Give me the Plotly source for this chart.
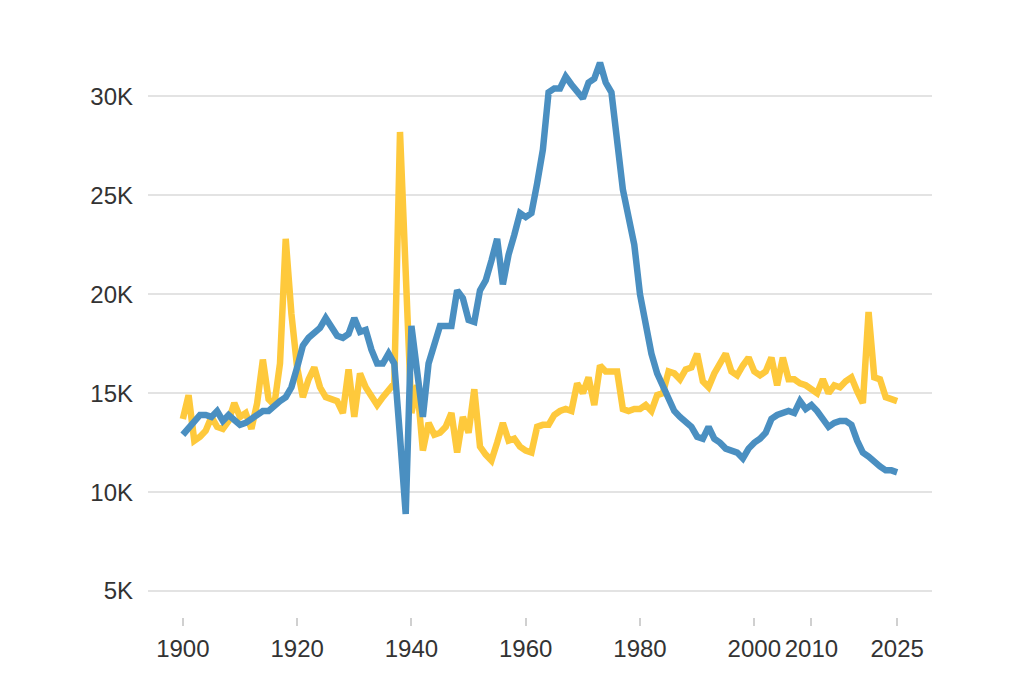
import plotly.graph_objects as go

# yearly values
years = list(range(1900, 2026))

blue_values = [
    12.9, 13.2, 13.6, 13.9, 13.9, 13.8, 14.1, 13.6, 13.9, 13.6,   # 1900s
    13.4, 13.5, 13.7, 13.9, 14.1, 14.1, 14.4, 14.6, 14.8, 15.3,   # 1910s
    16.3, 17.4, 17.8, 18.1, 18.3, 18.8, 18.4, 17.9, 17.8, 18.0,   # 1920s
    18.8, 18.1, 18.2, 17.2, 16.5, 16.5, 17.0, 16.5, 12.8, 8.9,    # 1930s
    18.4, 16.0, 13.8, 16.5, 17.5, 18.4, 18.4, 18.4, 20.2, 19.8,   # 1940s
    18.7, 18.6, 20.2, 20.7, 21.7, 22.8, 20.5, 22.0, 23.0, 24.1,   # 1950s
    23.9, 24.1, 25.6, 27.3, 30.2, 30.4, 30.4, 31.0, 30.6, 30.2,   # 1960s
    29.9, 30.7, 30.9, 31.7, 30.7, 30.2, 28.0, 25.3, 23.9, 22.5,   # 1970s
    20.0, 18.3, 17.0, 16.0, 15.3, 14.6, 14.1, 13.8, 13.5, 13.3,   # 1980s
    12.8, 12.7, 13.3, 12.7, 12.5, 12.2, 12.1, 12.0, 11.7, 12.2,   # 1990s
    12.5, 12.7, 13.0, 13.7, 13.9, 14.0, 14.1, 14.0, 14.6, 14.2,   # 2000s
    14.4, 14.1, 13.7, 13.3, 13.5, 13.6, 13.6, 13.4, 12.6, 12.0,   # 2010s
    11.8, 11.5, 11.3, 11.1, 11.1, 11.0,                           # 2020s
]

yellow_values = [
    13.7, 14.9, 12.6, 12.8, 13.1, 13.8, 13.3, 13.2, 13.6, 14.5,
    13.8, 14.0, 13.2, 14.5, 16.7, 14.7, 14.4, 16.5, 22.8, 19.0,
    16.3, 14.8, 15.7, 16.3, 15.3, 14.8, 14.7, 14.6, 14.0, 16.2,
    13.8, 16.0, 15.3, 14.9, 14.4, 14.8, 15.2, 15.5, 28.2, 21.0,
    14.0, 15.4, 12.1, 13.5, 12.9, 13.0, 13.3, 14.0, 12.0, 13.8,
    13.0, 15.2, 12.3, 11.9, 11.6, 12.5, 13.5, 12.6, 12.7, 12.3,
    12.1, 12.0, 13.3, 13.4, 13.4, 13.9, 14.1, 14.2, 14.1, 15.5,
    15.0, 15.8, 14.4, 16.4, 16.1, 16.1, 16.1, 14.2, 14.1, 14.2,
    14.2, 14.4, 14.1, 14.9, 15.0, 16.1, 16.0, 15.7, 16.2, 16.3,
    17.0, 15.6, 15.3, 16.0, 16.5, 17.0, 16.1, 15.9, 16.4, 16.8,
    16.1, 15.9, 16.1, 16.8, 15.4, 16.8, 15.7, 15.7, 15.5, 15.4,
    15.2, 15.0, 15.7, 15.0, 15.4, 15.3, 15.6, 15.8, 15.1, 14.5,
    19.1, 15.8, 15.7, 14.8, 14.7, 14.6,
]

x_ticks = [1900, 1920, 1940, 1960, 1980, 2000, 2010, 2025]
y_ticks = [5000, 10000, 15000, 20000, 25000, 30000]
y_labels = ['5K', '10K', '15K', '20K', '25K', '30K']

fig = go.Figure()

fig.add_trace(go.Scatter(
    x=years,
    y=[v * 1000 for v in yellow_values],
    mode='lines',
    line=dict(color='#fec93c', width=6.5),
    name='yellow',
))

fig.add_trace(go.Scatter(
    x=years,
    y=[v * 1000 for v in blue_values],
    mode='lines',
    line=dict(color='#4a8fc1', width=6.5),
    name='blue',
))

# the page body adds an 8px offset, so the figure is a bit smaller than the window
fig.update_layout(
    width=1008,
    height=667,
    margin=dict(l=140, r=84, t=29, b=58),
    paper_bgcolor='white',
    plot_bgcolor='white',
    showlegend=False,
    font=dict(family='Liberation Sans, Arial, sans-serif', size=24, color='#333333'),
    xaxis=dict(
        range=[1893.9, 2031.1],
        tickvals=x_ticks,
        showgrid=False,
        zeroline=False,
        showline=False,
        ticks='outside',
        ticklen=8,
        tickwidth=1.5,
        tickcolor='#d0d0d0',
        ticklabelstandoff=2,
        automargin=False,
    ),
    yaxis=dict(
        range=[3690, 33000],
        tickvals=y_ticks,
        ticktext=y_labels,
        showgrid=True,
        gridcolor='#e3e3e3',
        gridwidth=2,
        zeroline=False,
        showline=False,
        ticklabelstandoff=14,
        automargin=False,
    ),
)

fig.write_html("out.html")
